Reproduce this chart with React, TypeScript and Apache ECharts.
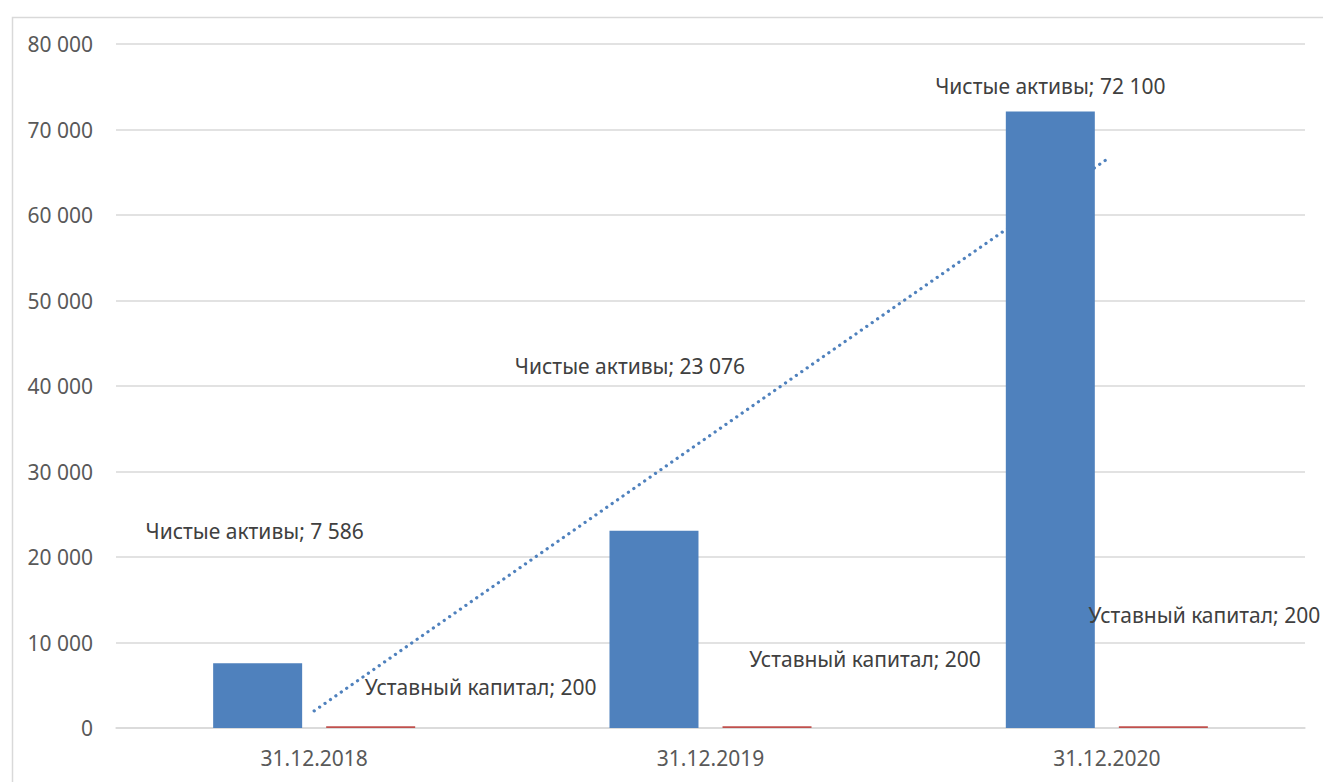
import React, { useEffect, useRef } from "react";
import * as echarts from "echarts";

const categories = ["31.12.2018", "31.12.2019", "31.12.2020"];
const netAssets = [7586, 23076, 72100];
const charterCapital = [200, 200, 200];
const trendValues = [1997, 34254, 66511];
const netAssetsName = "Чистые активы";
const charterName = "Уставный капитал";
const yTicks = [0, 10000, 20000, 30000, 40000, 50000, 60000, 70000, 80000];

const netLabelOffsets = [[-3, -120], [-24, -153], [0, -14]];
const capLabelOffsets = [[110, -27], [98, -55], [41, -99]];

const fmt = (v: number) => String(v).replace(/\B(?=(\d{3})+(?!\d))/g, " ");
const FONT = "'Noto Sans', 'Open Sans', sans-serif";
const FS = 21;

export default function App() {
  const ref = useRef<HTMLDivElement>(null);
  useEffect(() => {
    document.body.style.margin = "0";
    const chart = echarts.init(ref.current!, null, { renderer: "svg" });
    chart.setOption({
      animation: false,
      backgroundColor: "#ffffff",
      textStyle: { fontFamily: FONT },
      graphic: [
        {
          type: "rect",
          left: 10,
          top: 15,
          shape: { x: 0, y: 0, width: 1400, height: 900 },
          style: { fill: "none", stroke: "#d9d9d9", lineWidth: 1.5 },
          silent: true,
          z: -10,
        },
      ],
      grid: { left: 116, right: 18, top: 44, bottom: 54 },
      xAxis: {
        type: "category",
        data: categories,
        axisLine: { lineStyle: { color: "#d9d9d9", width: 1.5 } },
        axisTick: { show: false },
        axisLabel: { color: "#595959", fontSize: FS, margin: 18, lineHeight: 24, fontFamily: FONT },
      },
      yAxis: {
        type: "value",
        min: yTicks[0],
        max: yTicks[yTicks.length - 1],
        interval: 10000,
        axisLine: { show: false },
        axisTick: { show: false },
        splitLine: { lineStyle: { color: "#d9d9d9", width: 1.5 } },
        axisLabel: { color: "#595959", fontSize: FS, margin: 23, formatter: (v: number) => fmt(v), fontFamily: FONT },
      },
      series: [
        {
          type: "line",
          data: trendValues,
          symbol: "none",
          z: 1,
          lineStyle: { color: "#4f81bd", width: 3.2, type: [0.1, 6.5], cap: "round" },
          silent: true,
        },
        {
          type: "bar",
          name: netAssetsName,
          data: netAssets.map((v, i) => ({
            value: v,
            label: { offset: netLabelOffsets[i] },
          })),
          barWidth: 89,
          barGap: "27%",
          z: 3,
          itemStyle: { color: "#4f81bd" },
          label: {
            show: true,
            position: "top",
            distance: 0,
            lineHeight: 24,
            fontSize: FS,
            color: "#404040",
            fontFamily: FONT,
            formatter: (p: any) => `${netAssetsName}; ${fmt(p.value)}`,
          },
        },
        {
          type: "bar",
          name: charterName,
          data: charterCapital.map((v, i) => ({
            value: v,
            label: { offset: capLabelOffsets[i] },
          })),
          barWidth: 89,
          z: 3,
          itemStyle: { color: "#c0504d" },
          label: {
            show: true,
            position: "top",
            distance: 0,
            lineHeight: 24,
            fontSize: FS,
            color: "#404040",
            fontFamily: FONT,
            formatter: (p: any) => `${charterName}; ${fmt(p.value)}`,
          },
        },
      ],
    });
    return () => chart.dispose();
  }, []);
  return <div ref={ref} style={{ width: 1323, height: 782 }} />;
}
